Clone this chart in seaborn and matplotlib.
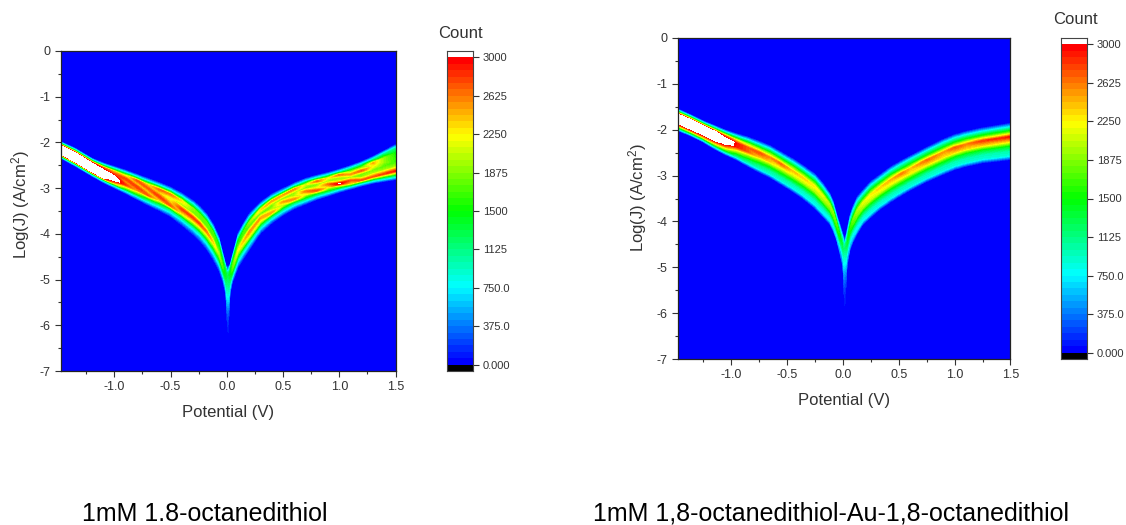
import numpy as np
import matplotlib
matplotlib.use('Agg')
import matplotlib.pyplot as plt
import matplotlib.tri as mtri
from matplotlib.colors import BoundaryNorm, LinearSegmentedColormap, ListedColormap
import seaborn as sns

sns.set_theme(style='ticks')
plt.rcParams['font.family'] = ['Liberation Sans', 'DejaVu Sans']
plt.rcParams['mathtext.default'] = 'regular'
plt.rcParams['axes.unicode_minus'] = False

x_ticks = [-1.0, -0.5, 0.0, 0.5, 1.0, 1.5]
x_tick_labels = ['-1.0', '-0.5', '0.0', '0.5', '1.0', '1.5']
y_ticks = [0, -1, -2, -3, -4, -5, -6, -7]
y_tick_labels = ['0', '-1', '-2', '-3', '-4', '-5', '-6', '-7']
bar_ticks = [3000, 2625, 2250, 1875, 1500, 1125, 750, 375, 0]
bar_tick_labels = ['3000', '2625', '2250', '1875', '1500', '1125', '750.0', '375.0', '0.000']
captions = ['1mM 1.8-octanedithiol', '1mM 1,8-octanedithiol-Au-1,8-octanedithiol']

# band: potential, lower and upper edge of log(J),
# then counts at 9 even steps from the lower edge to the upper edge
left_potential = [-1.474, -1.35, -1.2, -1.1, -1.0, -0.9, -0.8, -0.7, -0.6, -0.5, -0.4, -0.3, -0.24,
                  -0.18, -0.12, -0.07, -0.035, -0.01, 0.012, 0.03, 0.05, 0.1, 0.15, 0.2, 0.3, 0.4,
                  0.5, 0.6, 0.7, 0.8, 0.9, 1.0, 1.1, 1.2, 1.3, 1.4, 1.5]
left_low = [-2.35, -2.52, -2.74, -2.88, -3.0, -3.12, -3.25, -3.38, -3.5, -3.63, -3.82, -4.03, -4.17,
            -4.35, -4.58, -4.82, -5.06, -5.35, -6.4, -5.35, -5.08, -4.75, -4.55, -4.37, -4.0, -3.78,
            -3.6, -3.46, -3.36, -3.26, -3.18, -3.1, -3.03, -2.96, -2.9, -2.86, -2.82]
left_high = [-1.98, -2.12, -2.34, -2.44, -2.52, -2.6, -2.69, -2.78, -2.87, -2.97, -3.1, -3.26, -3.39,
             -3.55, -3.78, -4.05, -4.4, -4.65, -4.72, -4.65, -4.45, -3.98, -3.75, -3.55, -3.3, -3.12,
             -3.0, -2.88, -2.78, -2.71, -2.65, -2.58, -2.5, -2.41, -2.3, -2.17, -2.04]
left_counts = [
    [0, 1100, 3100, 3400, 3400, 3400, 3100, 1200, 0],
    [0, 1050, 3100, 3400, 3400, 3400, 3000, 1150, 0],
    [0, 1000, 3100, 3400, 3400, 3400, 2900, 1100, 0],
    [0, 1000, 3100, 3400, 3300, 3100, 2700, 1000, 0],
    [0, 950, 2500, 3200, 3200, 2800, 2400, 1000, 0],
    [0, 850, 1900, 2800, 2500, 2800, 2200, 950, 0],
    [0, 750, 1700, 2500, 2800, 2300, 2700, 950, 0],
    [0, 700, 1400, 2700, 2300, 2700, 2300, 900, 0],
    [0, 650, 1300, 2300, 2800, 2300, 2650, 900, 0],
    [0, 600, 1200, 2700, 2300, 2100, 2600, 900, 0],
    [0, 550, 1150, 2300, 2800, 1900, 2300, 880, 0],
    [0, 500, 1100, 2100, 2800, 1800, 1900, 850, 0],
    [0, 500, 1050, 2000, 2750, 1800, 1800, 820, 0],
    [0, 480, 1000, 1900, 2600, 1750, 1800, 800, 0],
    [0, 450, 950, 1700, 2350, 1700, 1700, 780, 0],
    [0, 420, 880, 1500, 2000, 1650, 1450, 720, 0],
    [0, 380, 800, 1300, 1700, 1550, 1250, 680, 0],
    [0, 280, 550, 850, 1200, 1400, 1400, 1000, 0],
    [0, 50, 120, 250, 500, 800, 1100, 1300, 0],
    [0, 280, 550, 850, 1200, 1400, 1400, 1000, 0],
    [0, 420, 850, 1400, 1750, 1650, 1400, 750, 0],
    [0, 480, 950, 1650, 2200, 1700, 1500, 780, 0],
    [0, 500, 1000, 1900, 2400, 1750, 1650, 800, 0],
    [0, 500, 1050, 2100, 2550, 1700, 1900, 800, 0],
    [0, 520, 1100, 2050, 2500, 1700, 2300, 820, 0],
    [0, 550, 1200, 2500, 1900, 1800, 2500, 820, 0],
    [0, 600, 1200, 2000, 2500, 1800, 2500, 830, 0],
    [0, 600, 1250, 2550, 2000, 1900, 2550, 830, 0],
    [0, 650, 1350, 2100, 2600, 1800, 2100, 850, 0],
    [0, 650, 1400, 2750, 2100, 1800, 2650, 850, 0],
    [0, 700, 1500, 2200, 2650, 1900, 2200, 850, 0],
    [0, 700, 1700, 3050, 2100, 1900, 2600, 900, 0],
    [0, 800, 2300, 2700, 1900, 2500, 1800, 900, 0],
    [0, 900, 2700, 1900, 1800, 2700, 1800, 950, 0],
    [0, 1000, 2700, 2000, 1800, 2200, 2450, 1000, 0],
    [0, 1100, 2800, 1950, 1700, 1900, 1900, 1100, 0],
    [0, 1200, 2900, 1950, 1650, 1600, 1500, 1100, 0],
]

right_potential = [-1.477, -1.35, -1.25, -1.15, -1.05, -0.95, -0.85, -0.75, -0.65, -0.55, -0.45, -0.35,
                   -0.25, -0.18, -0.115, -0.085, -0.055, -0.025, 0.0, 0.02, 0.04, 0.065, 0.09, 0.13,
                   0.18, 0.25, 0.33, 0.43, 0.53, 0.6, 0.75, 0.9, 1.0, 1.1, 1.25, 1.4, 1.5]
right_low = [-2.02, -2.15, -2.27, -2.42, -2.55, -2.66, -2.8, -2.93, -3.05, -3.2, -3.35, -3.52,
             -3.72, -3.9, -4.07, -4.22, -4.42, -4.72, -5.0, -6.08, -5.0, -4.65, -4.47, -4.28,
             -4.08, -3.92, -3.75, -3.58, -3.43, -3.33, -3.14, -2.98, -2.88, -2.81, -2.73, -2.69, -2.66]
right_high = [-1.54, -1.68, -1.8, -1.9, -2.0, -2.08, -2.15, -2.24, -2.34, -2.48, -2.62, -2.78,
              -2.95, -3.15, -3.38, -3.55, -3.82, -4.05, -4.25, -4.38, -4.15, -3.85, -3.67, -3.45,
              -3.31, -3.12, -2.98, -2.8, -2.66, -2.57, -2.38, -2.2, -2.1, -2.03, -1.95, -1.89, -1.85]
right_counts = [
    [0, 1200, 2500, 3300, 3400, 3400, 3200, 1300, 0],
    [0, 1200, 2600, 3300, 3400, 3400, 3200, 1300, 0],
    [0, 1100, 2500, 3200, 3400, 3400, 3200, 1250, 0],
    [0, 1050, 2300, 3100, 3400, 3400, 3100, 1200, 0],
    [0, 1000, 2000, 2800, 3300, 3200, 2700, 1100, 0],
    [0, 950, 1500, 2200, 2900, 2950, 2200, 950, 0],
    [0, 900, 1300, 1900, 2700, 2700, 1950, 900, 0],
    [0, 880, 1150, 1700, 2400, 2750, 1850, 850, 0],
    [0, 860, 1100, 1600, 2350, 2550, 1750, 850, 0],
    [0, 850, 1050, 1550, 2150, 2650, 1700, 820, 0],
    [0, 830, 1000, 1500, 2100, 2400, 1650, 800, 0],
    [0, 800, 950, 1400, 2050, 2350, 1600, 780, 0],
    [0, 780, 930, 1350, 2000, 2250, 1500, 750, 0],
    [0, 750, 900, 1300, 1950, 2150, 1400, 730, 0],
    [0, 700, 850, 1250, 1800, 2000, 1300, 700, 0],
    [0, 650, 800, 1200, 1700, 1900, 1250, 680, 0],
    [0, 600, 750, 1100, 1550, 1750, 1150, 650, 0],
    [0, 480, 650, 950, 1350, 1500, 1050, 600, 0],
    [0, 300, 500, 750, 1050, 1300, 1150, 650, 0],
    [0, 40, 90, 180, 350, 600, 900, 1200, 0],
    [0, 300, 500, 750, 1100, 1350, 1150, 650, 0],
    [0, 520, 700, 1000, 1400, 1600, 1100, 620, 0],
    [0, 620, 780, 1150, 1650, 1800, 1200, 660, 0],
    [0, 700, 850, 1250, 1850, 2000, 1300, 700, 0],
    [0, 750, 900, 1300, 1950, 2150, 1400, 730, 0],
    [0, 780, 930, 1350, 2050, 2250, 1500, 750, 0],
    [0, 800, 950, 1400, 2100, 2350, 1550, 780, 0],
    [0, 820, 1000, 1450, 2150, 2450, 1550, 800, 0],
    [0, 830, 1000, 1500, 2200, 2600, 1500, 830, 0],
    [0, 850, 1000, 1500, 2250, 2400, 1500, 850, 0],
    [0, 850, 1000, 1500, 2300, 2650, 1550, 850, 0],
    [0, 850, 1000, 1500, 2300, 2500, 1550, 850, 0],
    [0, 850, 1000, 1450, 2350, 2700, 1600, 850, 0],
    [0, 850, 1000, 1400, 2300, 2600, 1650, 850, 0],
    [0, 850, 1000, 1400, 2350, 2800, 1650, 850, 0],
    [0, 850, 1000, 1400, 2300, 2850, 1700, 850, 0],
    [0, 850, 1000, 1400, 2300, 2900, 1700, 850, 0],
]

levels = np.linspace(0, 3000, 49)
cmap = LinearSegmentedColormap.from_list('origin', ['#0000ff', '#00ffff', '#00ff00', '#ffff00', '#ff0000'], N=48)
cmap = ListedColormap(cmap(np.arange(48)))
cmap.set_over('white')
cmap.set_under('black')
norm = BoundaryNorm(levels, 48)

W, H = 1126, 525
ink = '#333333'


def add_axes_px(fig, left, top, right, bottom):
    return fig.add_axes([left / W, 1 - bottom / H, (right - left) / W, (bottom - top) / H])


def draw_panel(fig, box, potential, low, high, counts, xmin):
    ax = add_axes_px(fig, *box)
    ax.set_facecolor('#0000ff')
    steps = np.linspace(0, 1, 9)
    low = np.array(low)
    high = np.array(high)
    xx = np.repeat(np.array(potential)[:, None], 9, axis=1)
    yy = low[:, None] + (high - low)[:, None] * steps
    n_col = len(potential)
    tris = []
    for i in range(n_col - 1):
        for j in range(8):
            a = i * 9 + j
            tris.append([a, a + 9, a + 1])
            tris.append([a + 1, a + 9, a + 10])
    tri = mtri.Triangulation(xx.ravel(), yy.ravel(), tris)
    ax.tricontourf(tri, np.array(counts, dtype=float).ravel(), levels=levels, cmap=cmap, norm=norm, extend='max')
    ax.set_xlim(xmin, 1.5)
    ax.set_ylim(-7, 0)
    ax.set_xticks(x_ticks, x_tick_labels)
    ax.set_yticks(y_ticks, y_tick_labels)
    ax.set_xticks([-1.25, -0.75, -0.25, 0.25, 0.75, 1.25], minor=True)
    ax.set_yticks(np.arange(-6.5, 0, 1), minor=True)
    ax.tick_params(which='major', length=4, width=0.8, color=ink, labelcolor=ink, labelsize=9, pad=3.5)
    ax.tick_params(which='minor', length=2.5, width=0.8, color=ink)
    for s in ax.spines.values():
        s.set_linewidth(0.9)
        s.set_color('#222222')
    return ax


def draw_bar(fig, box):
    cax = add_axes_px(fig, *box)
    rows = [3100] + list((levels[:-1] + levels[1:])[::-1] / 2) + [-100]
    sns.heatmap(np.array(rows).reshape(-1, 1), ax=cax, cmap=cmap, norm=norm, cbar=False,
                xticklabels=False, yticklabels=False)
    for s in cax.spines.values():
        s.set_visible(True)
        s.set_linewidth(0.8)
        s.set_color('#444444')
    cax.yaxis.tick_right()
    cax.set_yticks([1 + (3000 - v) / 62.5 for v in bar_ticks], bar_tick_labels)
    cax.tick_params(axis='y', length=4, width=0.8, color=ink, labelcolor=ink, labelsize=8, pad=3, rotation=0)
    return cax


fig = plt.figure(figsize=(W / 100, H / 100), dpi=100, facecolor='white')

draw_panel(fig, (61, 51, 395.5, 371), left_potential, left_low, left_high, left_counts, -1.474)
draw_panel(fig, (677.5, 38, 1010.5, 359), right_potential, right_low, right_high, right_counts, -1.477)
draw_bar(fig, (447, 51, 473, 371))
draw_bar(fig, (1061, 38, 1087, 359))


def text_px(x, y, s, size, **kw):
    fig.text(x / W, 1 - y / H, s, fontsize=size, ha='center', va='center', **kw)


text_px(228, 412, 'Potential (V)', 12, color=ink)
text_px(844, 401, 'Potential (V)', 12, color=ink)
text_px(21, 205, 'Log(J) (A/cm$^2$)', 12, color=ink, rotation=90)
text_px(638, 198, 'Log(J) (A/cm$^2$)', 12, color=ink, rotation=90)
text_px(460, 33, 'Count', 12, color=ink)
text_px(1075, 20, 'Count', 12, color=ink)
fig.text(82 / W, 1 - 521 / H, captions[0], fontsize=18, color='black', ha='left', va='baseline')
fig.text(593 / W, 1 - 521 / H, captions[1], fontsize=18, color='black', ha='left', va='baseline')

fig.savefig('out.png', dpi=100)
